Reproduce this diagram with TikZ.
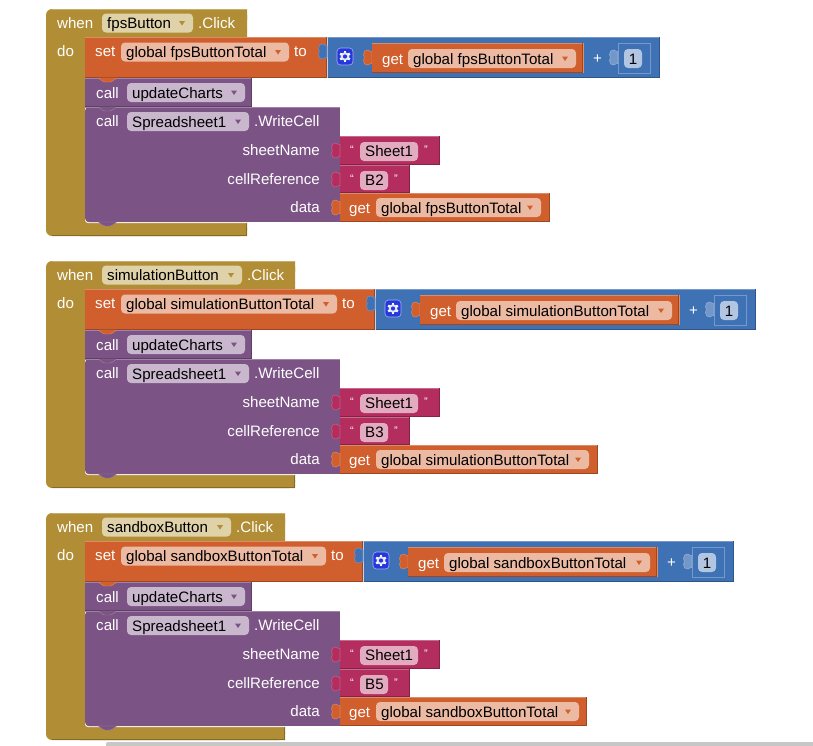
\documentclass[tikz,border=0pt]{standalone}
\usepackage{fontspec}
\setmainfont{Liberation Sans}
\definecolor{hatc}{HTML}{B18E35}
\definecolor{orgc}{HTML}{D05F2D}
\definecolor{purc}{HTML}{7C5385}
\definecolor{crmc}{HTML}{B32D5E}
\definecolor{bluc}{HTML}{3F71B5}
\definecolor{hatf}{HTML}{DFD1A8}
\definecolor{orgf}{HTML}{ECB9A2}
\definecolor{purf}{HTML}{C9B7CE}
\definecolor{crmf}{HTML}{E3ABC0}
\definecolor{bluf}{HTML}{B2C6E2}
\definecolor{gearc}{HTML}{2438DC}
\tikzset{
  txw/.style={font=\fontsize{15.1}{15}\selectfont,text=white,inner sep=0pt,anchor=base west,yshift=-.5pt},
  txr/.style={font=\fontsize{15.1}{15}\selectfont,text=white,inner sep=0pt,anchor=base east,yshift=-.5pt},
  txb/.style={font=\fontsize{15.1}{15}\selectfont,text=black,inner sep=0pt,anchor=base west,yshift=-.5pt},
  txq/.style={font=\fontsize{11}{11}\selectfont,text=white,inner sep=0pt,anchor=base},
}
% block body with lit top edge and shaded bottom edge
\newcommand\blk[5]{%
  \fill[#1] (#2,#3) rectangle (#4,#5);
  \draw[#1!72!white,line width=.8pt] (#2,#3+.4) -- (#4,#3+.4);
  \draw[#1!75!black,line width=.8pt] (#2,#5-.4) -- (#4,#5-.4);
  \draw[#1!75!black,line width=.6pt] (#4-.3,#3) -- (#4-.3,#5);
}
% input tab sticking out to the left of x, starting at y
\newcommand\tabin[3]{%
  \fill[#3,draw=#3!78!white,line width=.6pt] (#1,{#2+1.5})
    .. controls ({#1-1.5},{#2+2.5}) and ({#1-2.5},{#2+.2}) .. ({#1-4},{#2})
    .. controls ({#1-6.5},{#2-.5}) and ({#1-8.5},{#2+1.5}) .. ({#1-8.5},{#2+4.5})
    .. controls ({#1-8.5},{#2+6}) and ({#1-7.6},{#2+6.5}) .. ({#1-7.6},{#2+7.5})
    .. controls ({#1-7.6},{#2+8.5}) and ({#1-8.5},{#2+9}) .. ({#1-8.5},{#2+10.5})
    .. controls ({#1-8.5},{#2+13.5}) and ({#1-6.5},{#2+15.5}) .. ({#1-4},{#2+15})
    .. controls ({#1-2.5},{#2+14.8}) and ({#1-1.5},{#2+12.5}) .. (#1,{#2+13.5}) -- cycle;
}
% stack notch of the upper block, over the lower one
\newcommand\notchb[2]{%
  \fill[#1,draw=#1!72!white,line width=.4pt,rounded corners=1pt] (98,#2) -- (104,{#2+4}) -- (111,{#2+4}) -- (117,#2) -- cycle;
}
% dropdown field: name, x0, x1, ymid, fill, text, arrow colour
\newcommand\fld[7]{%
  \fill[#5,rounded corners=4pt] (#2,{#4-9.5}) rectangle (#3,{#4+9.5});
  \node[txb] (#1) at ({#2+5},{#4+5}) {#6};
  \fill[#7] ({#3-14},{#4-2}) -- ({#3-8},{#4-2}) -- ({#3-11},{#4+2.5}) -- cycle;
}
% string block: name, right edge, y0, y1, field right, text
\newcommand\strblk[6]{%
  \blk{crmc}{340}{#3}{#2}{#4}
  \pgfmathsetmacro\tby{#3+7}
  \tabin{340}{\tby}{crmc}
  \node[txq] at (352,{#3+17}) {“};
  \fill[crmf,rounded corners=4pt] (360,{#3+6}) rectangle (#5,{#3+25});
  \node[txb] (#1) at (365,{#3+20}) {#6};
  \node[txq] at ({#5+8},{#3+17}) {”};
}
\newcommand\gearicon[2]{%
  \fill[gearc,rounded corners=3.5pt,draw=white!60!gearc,line width=.6pt] (#1,#2) rectangle ({#1+16},{#2+17});
  \begin{scope}[shift={({#1+8},{#2+8.5})}]
    \foreach \ang in {30,90,...,330}{
      \draw[white,line width=2.4pt] (\ang:3pt) -- (\ang:5.6pt);
    }
    \fill[white!88!gearc] (0,0) circle (4.3pt);
    \fill[gearc] (0,0) circle (2.1pt);
  \end{scope}
}
\begin{document}
\begin{tikzpicture}[x=1pt,y=-1pt]
\useasboundingbox[fill=white] (0,0) rectangle (813,745);
\foreach \dy/\btn/\var/\hf/\hr/\sf/\bl/\gl/\gf/\gr/\sk/\br/\cell/\df/\dr in {
  0/fpsButton/fpsButtonTotal/193/247/289/327/372/576/583/618/660/B2/541/550,
  252/simulationButton/simulationButtonTotal/242/295/337/375/420/672/679/714/756/B3/589/598,
  504/sandboxButton/sandboxButtonTotal/231/285/326/363/408/650/657/692/734/B5/579/587}{
\begin{scope}[shift={(0,\dy)}]
  \pgfmathsetmacro\gearx{\bl+10}
  \pgfmathsetmacro\gfx{\gl+36}
  % event hat
  \fill[hatc,rounded corners=6pt] (46,9) -- (\hr,9) -- (\hr,37) -- (85,37) -- (85,222) -- (\hr,222) -- (\hr,236) -- (46,236) -- cycle;
  \fill[hatc] (85,30) rectangle (\hr,37) (80,222) rectangle (\hr,236) (70,9) rectangle (\hr,20);
  \draw[hatc!72!white,line width=.8pt] (52,9.4) -- (\hr,9.4);
  \draw[hatc!75!black,line width=.8pt] (52,235.6) -- (\hr,235.6) (\hr-.3,222) -- (\hr-.3,236);
  \draw[white!85!hatc,line width=1pt] (85.5,218) .. controls (85.5,222) and (86,222.6) .. (90,222.6) -- (\hr,222.6);
  \node[txw] (when\dy) at (57,28) {when};
  \fld{btn\dy}{102}{\hf}{23}{hatf}{\btn}{hatc}
  \node[txw] (click\dy) at ({\hf+5},28) {.Click};
  \node[txw] (do\dy) at (57,56) {do};
  % call Spreadsheet1
  \fill[purc,rounded corners=4pt] (85,107) rectangle (120,222);
  \fill[purc] (90,107) rectangle (340,222);
  \draw[purc!72!white,line width=.8pt] (85,107.4) -- (340,107.4);
  \notchb{purc}{222}
  \node[txw] (call2\dy) at (96,126) {call};
  \fld{sheet\dy}{127}{249}{121.5}{purf}{Spreadsheet1}{purc}
  \node[txw] (write\dy) at (254,126) {.WriteCell};
  \node[txr] (ln\dy) at (320,155) {sheetName};
  \node[txr] (lc\dy) at (320,184) {cellReference};
  \node[txr] (ld\dy) at (320,212) {data};
  % value blocks
  \strblk{sv\dy}{440}{136}{165}{418}{Sheet1}
  \strblk{cv\dy}{410}{165}{193}{388}{\cell}
  \blk{orgc}{340}{193}{\dr}{222}
  \tabin{340}{200}{orgc}
  \node[txw] (gd\dy) at (349,212.5) {get};
  \fld{dv\dy}{376}{\df}{207.5}{orgf}{global \var}{orgc}
  % call updateCharts
  \blk{purc}{85}{78}{252}{107}
  \notchb{purc}{107}
  \node[txw] (call1\dy) at (96,98) {call};
  \fld{upd\dy}{127}{245}{92.5}{purf}{updateCharts}{purc}
  % math block
  \blk{bluc}{\bl}{37}{\br}{78}
  \draw[white!70!bluc,line width=.6pt] (\bl,37) -- (\bl,78);
  \gearicon{\gearx}{48}
  \tabin{\gl}{50}{orgc}
  \blk{orgc}{\gl}{43}{\gr}{73}
  \draw[orgc!70!white,line width=.7pt] (\gr,43) -- (\gr,73);
  \node[txw] (gi\dy) at ({\gl+10},64) {get};
  \fld{gv\dy}{\gfx}{\gf}{58.5}{orgf}{global \var}{orgc}
  \node[txw] (plus\dy) at ({\gr+10},63) {+};
  \draw[bluc!72!white,line width=1pt] (\sk,43.5) rectangle ({\sk+32},73);
  \tabin{\sk}{50}{bluf!45!bluc}
  \fill[bluf,rounded corners=4pt] ({\sk+6},49) rectangle ({\sk+24},68);
  \node[txb,anchor=base] (one\dy) at ({\sk+15},64) {1};
  % set block
  \blk{orgc}{85}{37}{\bl}{78}
  \tabin{\bl}{44}{bluc}
  \notchb{orgc}{78}
  \node[txw] (set\dy) at (95,56) {set};
  \fld{var\dy}{121}{\sf}{52}{orgf}{global \var}{orgc}
  \node[txw] (to\dy) at ({\sf+5},56) {to};
\end{scope}
}
% page scrollbar at the foot of the screenshot
\fill[black!22,rounded corners=2pt] (106,742) rectangle (830,750);
\end{tikzpicture}
\end{document}
